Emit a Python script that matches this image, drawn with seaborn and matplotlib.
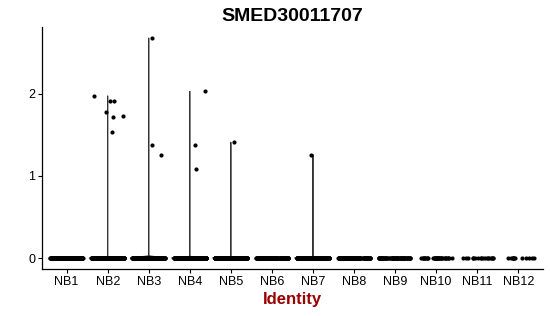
import numpy as np
import pandas as pd
import matplotlib
matplotlib.use("Agg")
import matplotlib.pyplot as plt
import seaborn as sns

# ---- data ----
categories = ["NB1", "NB2", "NB3", "NB4", "NB5", "NB6",
              "NB7", "NB8", "NB9", "NB10", "NB11", "NB12"]
zero_counts = [300, 260, 250, 230, 220, 160, 160, 130, 70, 35, 18, 12]
nb2_values = [1.78, 1.91, 1.73, 1.975, 1.91, 1.72, 1.54]
nb3_values = [2.68, 1.26, 1.38]
nb4_values = [2.03, 1.38, 1.08]
nb5_values = [1.41]
nb7_values = [1.26]
title = "SMED30011707"
x_label = "Identity"

nonzero = {"NB2": nb2_values, "NB3": nb3_values, "NB4": nb4_values,
           "NB5": nb5_values, "NB7": nb7_values}

groups, values = [], []
for cat, nz in zip(categories, zero_counts):
    vals = [0.0] * nz + list(nonzero.get(cat, []))
    groups += [cat] * len(vals)
    values += vals
df = pd.DataFrame({"ident": groups, "expr": values})

sns.set_style("ticks")
plt.rcParams["font.family"] = ["Liberation Sans", "DejaVu Sans"]

fig = plt.figure(figsize=(5.5, 3.16), dpi=100)
ax = fig.add_axes([0.0764, 0.1487, 0.9106, 0.7659])

# violins only for groups with spread (all-zero groups show nothing)
has_spread = df.groupby("ident")["expr"].transform("max") > 0
sns.violinplot(data=df[has_spread], x="ident", y="expr", order=categories,
               density_norm="width", cut=0, bw_adjust=0.02, inner=None,
               fill=False, color="#333333", linewidth=0.7, width=0.9, ax=ax)

np.random.seed(3)
sns.stripplot(data=df, x="ident", y="expr", order=categories, jitter=0.4,
              color="black", size=3.0, linewidth=0, ax=ax)

ymax = df["expr"].max()
ax.set_ylim(-0.05 * ymax, ymax * 1.05)
ax.set_xlim(-0.6, len(categories) - 0.4)
ax.set_yticks([0, 1, 2])

ax.set_title(title, fontsize=14, fontweight="bold", pad=4, color="black")
ax.set_xlabel(x_label, fontsize=12, fontweight="bold", color="#990000", labelpad=3)
ax.set_ylabel("")
ax.tick_params(axis="both", labelsize=9, length=3, width=0.8, color="black",
               pad=2, labelcolor="black")
for side in ["top", "right"]:
    ax.spines[side].set_visible(False)
for side in ["left", "bottom"]:
    ax.spines[side].set_color("black")
    ax.spines[side].set_linewidth(0.9)

fig.savefig("out.png", dpi=100)
